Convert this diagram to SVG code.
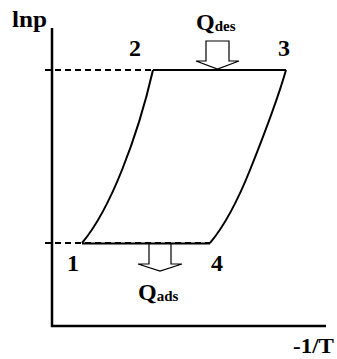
<svg xmlns="http://www.w3.org/2000/svg" width="337" height="359" viewBox="0 0 337 359">
<style>
.t{font-family:"Liberation Serif","Times New Roman",serif;font-weight:bold;fill:#000}
.big{font-size:24px}
.sub{font-size:15px}
.ax{stroke:#000;stroke-width:2.5;fill:none}
.ln{stroke:#000;stroke-width:2;fill:none}
.ds{stroke:#000;stroke-width:2;fill:none;stroke-dasharray:6 4}
.ar{stroke:#000;stroke-width:1.2;fill:#fff;stroke-linejoin:miter}
</style>
<rect width="337" height="359" fill="#fff"/>
<g id="axes">
<path class="ax" d="M52,28 V326 H326"/>
<text class="t big" x="12" y="27" textLength="35" lengthAdjust="spacingAndGlyphs">lnp</text>
<text class="t" style="font-size:22px" x="293" y="353" textLength="41" lengthAdjust="spacingAndGlyphs">-1/T</text>
</g>
<g id="connectors">
<path class="ds" d="M45,70 H153"/>
<path class="ln" d="M153,70 H286"/>
<path class="ds" d="M45,243 H210"/>
<path class="ln" d="M82,243.5 H210"/>
<path class="ln" d="M82,243 C98,224 110,200 122,170 C134,140 145,105 153,70"/>
<path class="ln" d="M210,243 C226,224 238,200 250,170 C262,140 276,105 286,70"/>
</g>
<g id="node1"><text class="t big" x="67" y="271">1</text></g>
<g id="node2"><text class="t big" x="129" y="56">2</text></g>
<g id="node3"><text class="t big" x="278" y="56">3</text></g>
<g id="node4"><text class="t big" x="211" y="271">4</text></g>
<g id="qdes">
<polygon class="ar" points="206,41 229,41 229,61 239,61 217.5,69 196,61 206,61"/>
<text class="t big" x="196" y="30">Q<tspan class="sub" dy="1">des</tspan></text>
</g>
<g id="qads">
<polygon class="ar" points="149,244 171,244 171,264 182,264 160,271 138,264 149,264"/>
<text class="t big" x="138" y="300">Q<tspan class="sub" dy="1">ads</tspan></text>
</g>
</svg>
